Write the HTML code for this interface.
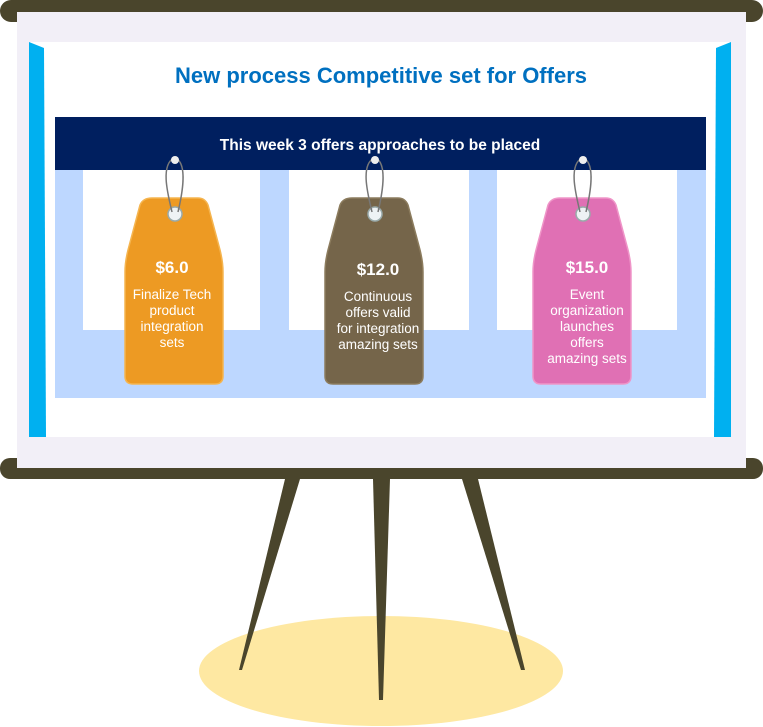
<!DOCTYPE html>
<html><head><meta charset="utf-8"><style>
html,body{margin:0;padding:0;background:#fff}
svg{display:block}
text{font-family:"Liberation Sans",Arial,sans-serif}
</style></head><body>
<svg width="763" height="727" viewBox="0 0 763 727" xmlns="http://www.w3.org/2000/svg">
<ellipse cx="381" cy="671" rx="182" ry="55" fill="#fee8a2"/>
<polygon points="285,479 300,479 242,670 239,670" fill="#4a452c"/>
<polygon points="373,479 390,479 383,700 379,700" fill="#4a452c"/>
<polygon points="462,479 478,479 525,670 521,670" fill="#4a452c"/>
<rect x="0" y="458" width="763" height="21" rx="10" fill="#4a452c"/>
<rect x="0" y="0" width="763" height="22" rx="11" fill="#4a452c"/>
<rect x="17" y="12" width="729" height="456" fill="#f2eff7"/>
<rect x="30" y="42" width="700" height="395" fill="#fff"/>
<path d="M29,42 L44,48 L46,437 L29,437 Z" fill="#00b0f0"/>
<path d="M731,42 L716,48 L714,437 L731,437 Z" fill="#00b0f0"/>
<text x="381" y="83" text-anchor="middle" font-size="22" font-weight="bold" fill="#0070c0">New process Competitive set for Offers</text>
<rect x="55" y="117" width="651" height="281" fill="#bdd7ff"/>
<rect x="55" y="117" width="651" height="53" fill="#001f5f"/>
<text x="380" y="150" text-anchor="middle" font-size="15.5" font-weight="bold" fill="#fff">This week 3 offers approaches to be placed</text>
<rect x="83" y="170" width="177" height="160" fill="#fff"/>
<rect x="289" y="170" width="180" height="160" fill="#fff"/>
<rect x="497" y="170" width="180" height="160" fill="#fff"/>
<g>
<path d="M152,198 L198,198 Q205,198 208,205 L220,250 Q223,262 223,272 L223,376 Q223,384 215,384 L133,384 Q125,384 125,376 L125,272 Q125,262 128,250 L140,205 Q143,198 152,198 Z" fill="#ed9a23" stroke="#f5b550" stroke-width="1.5"/>
<path d="M352,198 L398,198 Q405,198 408,205 L420,250 Q423,262 423,272 L423,376 Q423,384 415,384 L333,384 Q325,384 325,376 L325,272 Q325,262 328,250 L340,205 Q343,198 352,198 Z" fill="#75654a" stroke="#8c7c5e" stroke-width="1.5"/>
<path d="M560,198 L606,198 Q613,198 616,205 L628,250 Q631,262 631,272 L631,376 Q631,384 623,384 L541,384 Q533,384 533,376 L533,272 Q533,262 536,250 L548,205 Q551,198 560,198 Z" fill="#e070b4" stroke="#ef95c8" stroke-width="1.5"/>
</g>
<g fill="#eef2f4" stroke="#9aa" stroke-width="1.5">
<circle cx="175" cy="214" r="7"/><circle cx="375" cy="214" r="7"/><circle cx="583" cy="214" r="7"/>
</g>
<g fill="none" stroke="#777" stroke-width="1.5">
<path d="M174,158 C160,165 168,195 172,212 M176,158 C188,165 182,195 178,212"/>
<path d="M374,158 C360,165 368,195 372,212 M376,158 C388,165 382,195 378,212"/>
<path d="M582,158 C568,165 576,195 580,212 M584,158 C596,165 590,195 586,212"/>
</g>
<g fill="#eee"><circle cx="175" cy="160" r="4"/><circle cx="375" cy="160" r="4"/><circle cx="583" cy="160" r="4"/></g>
<g fill="#fff" text-anchor="middle">
<text x="172" y="273" font-size="17" font-weight="bold">$6.0</text>
<g font-size="13.5"><text x="172" y="299">Finalize Tech</text><text x="172" y="315">product</text><text x="172" y="331">integration</text><text x="172" y="347">sets</text></g>
<text x="378" y="275" font-size="17" font-weight="bold">$12.0</text>
<g font-size="13.5"><text x="378" y="301">Continuous</text><text x="378" y="317">offers valid</text><text x="378" y="333">for integration</text><text x="378" y="349">amazing sets</text></g>
<text x="587" y="273" font-size="17" font-weight="bold">$15.0</text>
<g font-size="13.5"><text x="587" y="299">Event</text><text x="587" y="315">organization</text><text x="587" y="331">launches</text><text x="587" y="347">offers</text><text x="587" y="363">amazing sets</text></g>
</g>
</svg>
</body></html>
